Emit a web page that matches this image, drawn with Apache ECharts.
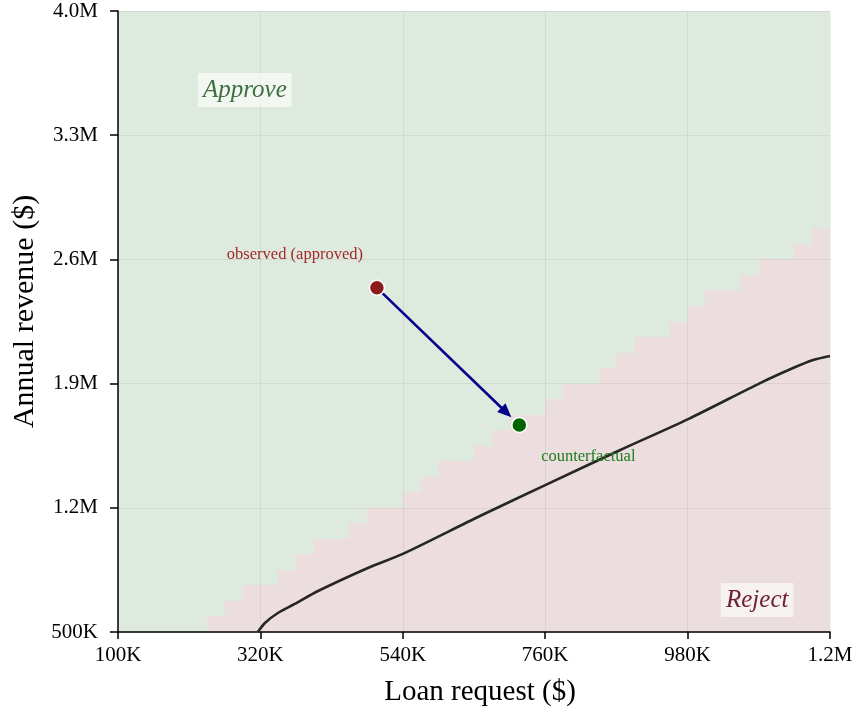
<!DOCTYPE html>
<html><head><meta charset="utf-8">
<script src="https://cdn.jsdelivr.net/npm/echarts@6/dist/echarts.min.js"></script>
<style>html,body{margin:0;padding:0;background:#fff}#chart{width:857px;height:715px}</style>
</head><body><div id="chart"></div>
<script>
// ---- data ----
const loanMin = 100000, loanMax = 1200000;
const revMin = 500000, revMax = 4000000;
const xTicks = [100000, 320000, 540000, 760000, 980000, 1200000];
const yTicks = [500000, 1200000, 1900000, 2600000, 3300000, 4000000];
const gridCols = 40;
// revenue below which each loan column is rejected (40 columns, left to right)
const rejectBelow = [
  500000, 500000, 500000, 500000, 500000, 587500, 675000, 762500, 762500, 850000,
  937500, 1025000, 1025000, 1112500, 1200000, 1200000, 1287500, 1375000, 1462500, 1462500,
  1550000, 1637500, 1725000, 1725000, 1812500, 1900000, 1900000, 1987500, 2075000, 2162500,
  2162500, 2250000, 2337500, 2425000, 2425000, 2512500, 2600000, 2600000, 2687500, 2775000
];
// black reference curve
const curveLoan = [316000, 327000, 347000, 373000, 409000, 486000, 540000, 656000, 760000, 876000, 981000, 1092000, 1143000, 1174000, 1200000];
const curveRevenue = [500000, 551000, 607000, 658000, 731000, 861000, 940000, 1148000, 1328000, 1526000, 1700000, 1903000, 1988000, 2033000, 2056000];
const observed = [500000, 2440000];
const counterfactual = [720000, 1667000];

// ---- chart ----
const FONT = '"Liberation Serif", "Times New Roman", serif';
const colW = (loanMax - loanMin) / gridCols;
const cellData = rejectBelow.map((r, i) => [loanMin + i * colW, loanMin + (i + 1) * colW, r]);
const fmt = v => v >= 1e6 ? (v / 1e6).toFixed(1) + 'M' : Math.round(v / 1e3) + 'K';

const chart = echarts.init(document.getElementById('chart'), null, {renderer: 'canvas'});
chart.setOption({
  animation: false,
  backgroundColor: '#ffffff',
  grid: {left: 118, right: 27, top: 11, bottom: 83, containLabel: false},
  xAxis: {
    type: 'value', min: loanMin, max: loanMax, z: 3,
    name: 'Loan request ($)', nameLocation: 'middle', nameGap: 46,
    nameTextStyle: {fontFamily: FONT, fontSize: 29, color: '#000', padding: [0, 0, 0, 12]},
    axisLine: {show: true, onZero: false, lineStyle: {color: '#000', width: 1.5}},
    axisTick: {show: true, length: 7, customValues: xTicks, lineStyle: {color: '#000', width: 1.5}},
    axisLabel: {customValues: xTicks, formatter: fmt, fontFamily: FONT, fontSize: 21, color: '#000', margin: 13},
    splitLine: {show: true, lineStyle: {color: 'rgba(0,0,0,0.06)', width: 1}}
  },
  yAxis: {
    type: 'value', min: revMin, max: revMax, z: 3,
    name: 'Annual revenue ($)', nameLocation: 'middle', nameGap: 78,
    nameTextStyle: {fontFamily: FONT, fontSize: 30, color: '#000', padding: [0, 0, 0, 20]},
    axisLine: {show: true, onZero: false, lineStyle: {color: '#000', width: 1.5}},
    axisTick: {show: true, length: 8, customValues: yTicks, lineStyle: {color: '#000', width: 1.5}},
    axisLabel: {customValues: yTicks, formatter: fmt, fontFamily: FONT, fontSize: 21, color: '#000', margin: 20},
    splitLine: {show: true, lineStyle: {color: 'rgba(0,0,0,0.06)', width: 1}}
  },
  graphic: [
    {type: 'text', left: 198, top: 73, z: 20,
     style: {text: 'Approve', font: 'italic 25px ' + FONT, fill: '#3f6e3f',
             backgroundColor: 'rgba(255,255,255,0.6)', padding: [5, 5, 4, 5]}},
    {type: 'text', left: 721, top: 583, z: 20,
     style: {text: 'Reject', font: 'italic 25px ' + FONT, fill: '#6e2230',
             backgroundColor: 'rgba(255,255,255,0.6)', padding: [5, 5, 4, 5]}}
  ],
  series: [
    {
      type: 'custom', name: 'decision', z: 1, silent: true,
      encode: {x: [0, 1], y: 2},
      data: cellData,
      renderItem: function (params, api) {
        const x0 = api.value(0), x1 = api.value(1), r = api.value(2);
        const L = Math.round(api.coord([x0, revMin])[0]);
        const R = Math.round(api.coord([x1, revMin])[0]);
        const B = Math.round(api.coord([x0, revMin])[1]);
        const T = Math.round(api.coord([x0, revMax])[1]);
        const M = Math.round(api.coord([x0, r])[1]);
        return {type: 'group', children: [
          {type: 'rect', shape: {x: L, y: M, width: R - L, height: B - M}, style: {fill: '#ecdede'}},
          {type: 'rect', shape: {x: L, y: T, width: R - L, height: M - T}, style: {fill: '#dfeadf'}}
        ]};
      }
    },
    {
      type: 'line', name: 'curve', z: 5, smooth: 0.25, showSymbol: false, symbol: 'none',
      data: curveLoan.map((x, i) => [x, curveRevenue[i]]),
      lineStyle: {color: '#262626', width: 2.6}, clip: true
    },
    {
      type: 'custom', name: 'arrow', z: 6, silent: true,
      encode: {x: [0, 2], y: [1, 3]},
      data: [[observed[0], observed[1], counterfactual[0], counterfactual[1]]],
      renderItem: function (params, api) {
        const a = api.coord([api.value(0), api.value(1)]);
        const b = api.coord([api.value(2), api.value(3)]);
        const dx = b[0] - a[0], dy = b[1] - a[1];
        const len = Math.sqrt(dx * dx + dy * dy);
        const ux = dx / len, uy = dy / len;
        const s = [a[0] + ux * 8, a[1] + uy * 8];
        const tip = [b[0] - ux * 11, b[1] - uy * 11];
        const hl = 14, hw = 6;
        const base = [tip[0] - ux * hl, tip[1] - uy * hl];
        const p1 = [base[0] - uy * hw, base[1] + ux * hw];
        const p2 = [base[0] + uy * hw, base[1] - ux * hw];
        return {type: 'group', children: [
          {type: 'line', shape: {x1: s[0], y1: s[1], x2: base[0] + ux * 2, y2: base[1] + uy * 2},
           style: {stroke: '#00008b', lineWidth: 2.6}},
          {type: 'polygon', shape: {points: [tip, p1, p2]}, style: {fill: '#00008b'}}
        ]};
      }
    },
    {
      type: 'scatter', name: 'observed', z: 7, symbolSize: 15,
      data: [observed],
      itemStyle: {color: '#8b1a1a', borderColor: '#ffffff', borderWidth: 1.5, opacity: 1},
      label: {show: true, formatter: 'observed (approved)', position: 'inside', offset: [-82, -33],
              fontFamily: FONT, fontSize: 16.5, color: '#a3292b'}
    },
    {
      type: 'scatter', name: 'counterfactual', z: 7, symbolSize: 15,
      data: [counterfactual],
      itemStyle: {color: '#006400', borderColor: '#ffffff', borderWidth: 1.5, opacity: 1},
      label: {show: true, formatter: 'counterfactual', position: 'inside', offset: [69, 32],
              fontFamily: FONT, fontSize: 16.5, color: '#1e7b1e'}
    }
  ]
});
</script>
</body></html>
